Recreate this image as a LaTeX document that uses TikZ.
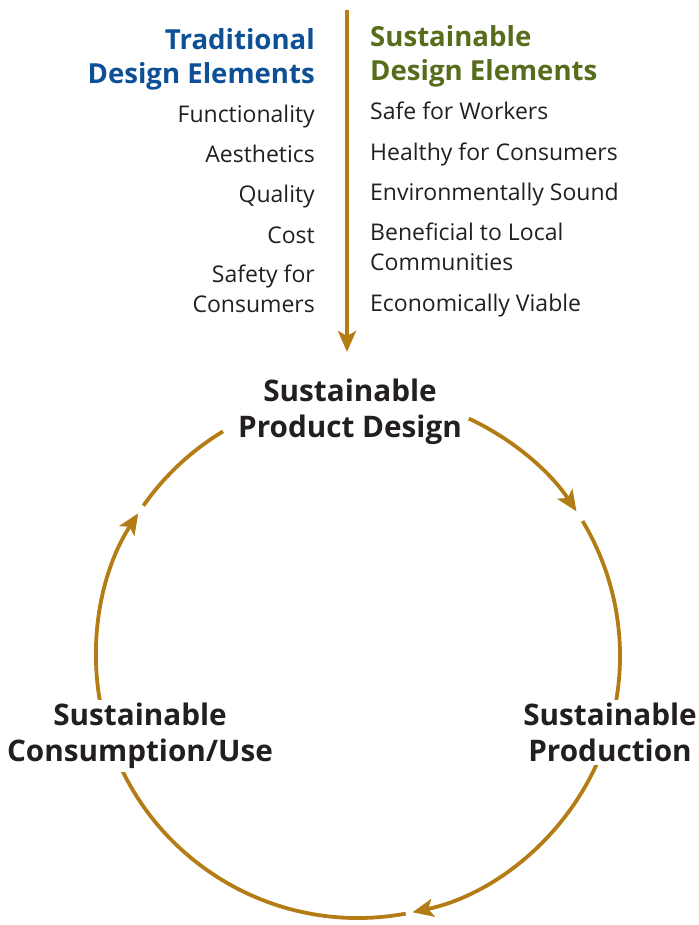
\documentclass[tikz,border=0pt]{standalone}
\usepackage{fontspec}
\setmainfont{Open Sans}
\usetikzlibrary{
  arrows.meta,
  positioning,
  backgrounds
}
\definecolor{ochre}{RGB}{180,124,20}
\definecolor{tradblue}{RGB}{14,80,150}
\definecolor{susgreen}{RGB}{86,110,28}
\definecolor{ink}{RGB}{35,31,32}

\begin{document}
\begin{tikzpicture}[
  x = 1pt, y = 1pt,
  % ── Column heading ──────────────────────────────────────
  colhead/.style={
    font       = \fontsize{27.6}{34}\selectfont\bfseries,
    inner sep  = 0pt
  },
  % ── Element in a column ─────────────────────────────────
  elem/.style={
    font       = \fontsize{23}{30}\selectfont,
    text       = ink,
    inner sep  = 0pt
  },
  leftelem/.style  = {elem, anchor = base east, align = right},
  rightelem/.style = {elem, anchor = base west, align = left},
  % ── Stage of the cycle ──────────────────────────────────
  stage/.style={
    font       = \fontsize{29.7}{36}\selectfont\bfseries,
    text       = ink,
    align      = center,
    anchor     = base,
    fill       = white,
    inner sep  = 3pt
  },
  % ── Cycle arrow ─────────────────────────────────────────
  cyc/.style={
    draw        = ochre,
    line width  = 3.8pt,
    -{Stealth[length=21pt, width=18pt, inset=5pt]}
  }
]
\useasboundingbox (0,0) rectangle (698,925);

% ── Column headings (base = last line) ─────────────────────
\node[colhead, text=tradblue, anchor=base east, align=right]
  (trad) at (315,841) {Traditional\\Design Elements};
\node[colhead, text=susgreen, anchor=base west, align=left]
  (sust) at (370,844) {Sustainable\\Design Elements};

% ── Traditional elements ───────────────────────────────────
\node[leftelem] (func) at (315,802) {Functionality};
\node[leftelem] (aest) at (315,762) {Aesthetics};
\node[leftelem] (qual) at (315,722) {Quality};
\node[leftelem] (cost) at (315,681) {Cost};
\node[leftelem] (safe) at (315,612) {Safety for\\Consumers};

% ── Sustainable elements ───────────────────────────────────
\node[rightelem] (work) at (370,805) {Safe for Workers};
\node[rightelem] (hlth) at (370,764) {Healthy for Consumers};
\node[rightelem] (envs) at (370,724) {Environmentally Sound};
\node[rightelem] (locl) at (370,654) {Beneficial to Local\\Communities};
\node[rightelem] (econ) at (370,613) {Economically Viable};

% ── Stages (base = last line) ──────────────────────────────
\node[stage] (spd)  at (350,487) {Sustainable\\Product Design};
\node[stage] (prod) at (610,163) {Sustainable\\Production};
\node[stage] (cons) at (140,163) {Sustainable\\Consumption/Use};

% ── Arrows ─────────────────────────────────────────────────
\coordinate (ctr)  at (358,269);
\coordinate (src)  at (347,915);
\coordinate (sink) at (347,573);
\draw[cyc] (src) -- (sink);

\begin{scope}[on background layer]
  \draw[cyc] ([shift={(65:262pt)}]ctr)
    arc[start angle=65, end angle=33.5, radius=262pt];
  \draw[cyc] ([shift={(31:262pt)}]ctr)
    arc[start angle=31, end angle=-78, radius=262pt];
  \draw[cyc] ([shift={(-79.5:262pt)}]ctr)
    arc[start angle=-79.5, end angle=-213, radius=262pt];
  \draw[cyc, -] ([shift={(-215:262pt)}]ctr)
    arc[start angle=-215, end angle=-239, radius=262pt];
\end{scope}

\end{tikzpicture}
\end{document}
